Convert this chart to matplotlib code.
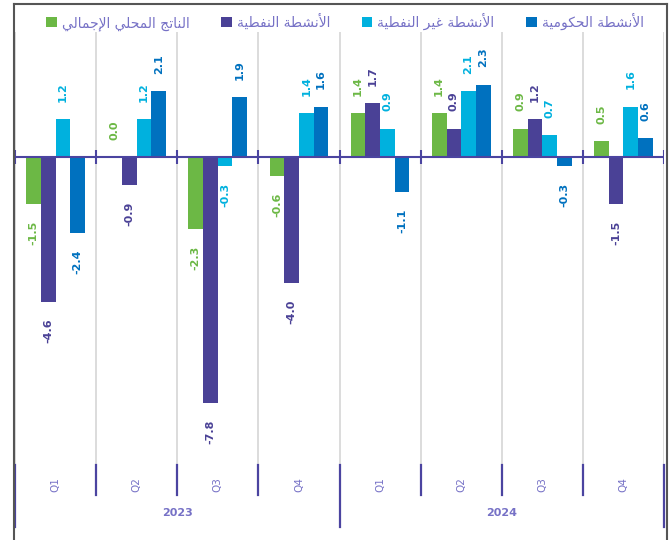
import matplotlib
matplotlib.use('Agg')
import matplotlib.pyplot as plt
from matplotlib.lines import Line2D
from matplotlib.patches import Patch
import numpy as np

# Data
quarters = ['Q1', 'Q2', 'Q3', 'Q4', 'Q1', 'Q2', 'Q3', 'Q4']
years = ['2023', '2024']
gdp = [-1.5, 0.0, -2.3, -0.6, 1.4, 1.4, 0.9, 0.5]
oil = [-4.6, -0.9, -7.8, -4.0, 1.7, 0.9, 1.2, -1.5]
non_oil = [1.2, 1.2, -0.3, 1.4, 0.9, 2.1, 0.7, 1.6]
gov = [-2.4, 2.1, 1.9, 1.6, -1.1, 2.3, -0.3, 0.6]

series_names = ['الناتج المحلي الإجمالي', 'الأنشطة النفطية',
                'الأنشطة غير النفطية', 'الأنشطة الحكومية']
colors = ['#6cb845', '#4a4196', '#00b1de', '#0071bf']
text_color = '#7671c6'
dark_line = '#4b44a0'

# matplotlib has no Arabic shaping, so pick the presentation forms by hand
FORMS = {
    'ا': (0xFE8D, 0xFE8E), 'أ': (0xFE83, 0xFE84), 'إ': (0xFE87, 0xFE88),
    'ة': (0xFE93, 0xFE94), 'و': (0xFEED, 0xFEEE), 'ر': (0xFEAD, 0xFEAE),
    'ل': (0xFEDD, 0xFEDE, 0xFEDF, 0xFEE0), 'ن': (0xFEE5, 0xFEE6, 0xFEE7, 0xFEE8),
    'ش': (0xFEB5, 0xFEB6, 0xFEB7, 0xFEB8), 'ط': (0xFEC1, 0xFEC2, 0xFEC3, 0xFEC4),
    'ح': (0xFEA1, 0xFEA2, 0xFEA3, 0xFEA4), 'ك': (0xFED9, 0xFEDA, 0xFEDB, 0xFEDC),
    'م': (0xFEE1, 0xFEE2, 0xFEE3, 0xFEE4), 'ي': (0xFEF1, 0xFEF2, 0xFEF3, 0xFEF4),
    'غ': (0xFECD, 0xFECE, 0xFECF, 0xFED0), 'ف': (0xFED1, 0xFED2, 0xFED3, 0xFED4),
    'ت': (0xFE95, 0xFE96, 0xFE97, 0xFE98), 'ج': (0xFE9D, 0xFE9E, 0xFE9F, 0xFEA0),
    'لا': (0xFEFB, 0xFEFC), 'لأ': (0xFEF7, 0xFEF8), 'لإ': (0xFEF9, 0xFEFA),
}


def shape_word(word):
    tokens = []
    i = 0
    while i < len(word):
        if word[i] == 'ل' and i + 1 < len(word) and word[i:i + 2] in FORMS:
            tokens.append(word[i:i + 2])
            i += 2
        else:
            tokens.append(word[i])
            i += 1
    out = []
    for k, t in enumerate(tokens):
        f = FORMS[t]
        prev_join = k > 0 and len(FORMS[tokens[k - 1]]) == 4
        next_join = len(f) == 4 and k + 1 < len(tokens)
        if prev_join and next_join:
            out.append(chr(f[3]))
        elif next_join:
            out.append(chr(f[2]))
        elif prev_join:
            out.append(chr(f[1]))
        else:
            out.append(chr(f[0]))
    return ''.join(out)


def arabic(text):
    shaped = ' '.join(shape_word(w) for w in text.split(' '))
    return shaped[::-1]


fig = plt.figure(figsize=(6.71, 5.40), dpi=100)
ax = fig.add_axes([15 / 671, 75 / 540, 649 / 671, 433 / 540])

x = np.arange(len(quarters))
w = 0.181
all_series = [gdp, oil, non_oil, gov]
for j, vals in enumerate(all_series):
    pos = x + (j - 1.5) * w
    ax.bar(pos, vals, width=w, color=colors[j], zorder=3)
    for p, v in zip(pos, vals):
        off = 12.5 if v >= 0 else -12
        ax.annotate(f'{v:.1f}', (p, v), xytext=(0, off), textcoords='offset points',
                    rotation=90, ha='center', va='bottom' if v >= 0 else 'top',
                    color=colors[j], fontsize=8, fontweight='bold')

ax.set_xlim(-0.5, 7.5)
ax.set_ylim(-9.78, 3.97)
for s in ax.spines.values():
    s.set_visible(False)
ax.set_xticks([])
ax.set_yticks([])

bounds = np.arange(-0.5, 8, 1)
for b in bounds:
    ax.axvline(b, color='#d9d9d9', lw=1.3, zorder=1)
ax.axhline(0, color=dark_line, lw=1.5, zorder=4)
ax.vlines(bounds, -0.22, 0.22, color=dark_line, lw=1.5, zorder=4)

# category axis below the plot
xt = ax.get_xaxis_transform()
for b in bounds:
    bottom = -0.143 if b in (-0.5, 3.5, 7.5) else -0.069
    ax.plot([b, b], [0, bottom], transform=xt, color=dark_line, lw=1.6, clip_on=False)
for i, q in enumerate(quarters):
    ax.text(i, -0.046, q, transform=xt, rotation=90, ha='center', va='center',
            color=text_color, fontsize=7.5)
for k, yr in enumerate(years):
    ax.text(1.5 + 4 * k, -0.111, yr, transform=xt, ha='center', va='center',
            color=text_color, fontsize=8, fontweight='bold')

handles = [Patch(facecolor=c) for c in colors]
labels = [arabic(n) for n in series_names]
fig.legend(handles, labels, loc='center', bbox_to_anchor=(345 / 671, 1 - 22 / 540),
           ncol=4, frameon=False, fontsize=10, labelcolor=text_color,
           handlelength=0.75, handleheight=0.75, handletextpad=0.35, columnspacing=2.3)

# outer frame
fig.add_artist(Line2D([14 / 671, 14 / 671], [0, 1 - 4 / 540], color='#555555', lw=1.5))
fig.add_artist(Line2D([14 / 671, 667 / 671], [1 - 4 / 540, 1 - 4 / 540], color='#555555', lw=1.5))
fig.add_artist(Line2D([667 / 671, 667 / 671], [0, 1 - 4 / 540], color='#555555', lw=1.5))

fig.savefig('out.png', dpi=100)
